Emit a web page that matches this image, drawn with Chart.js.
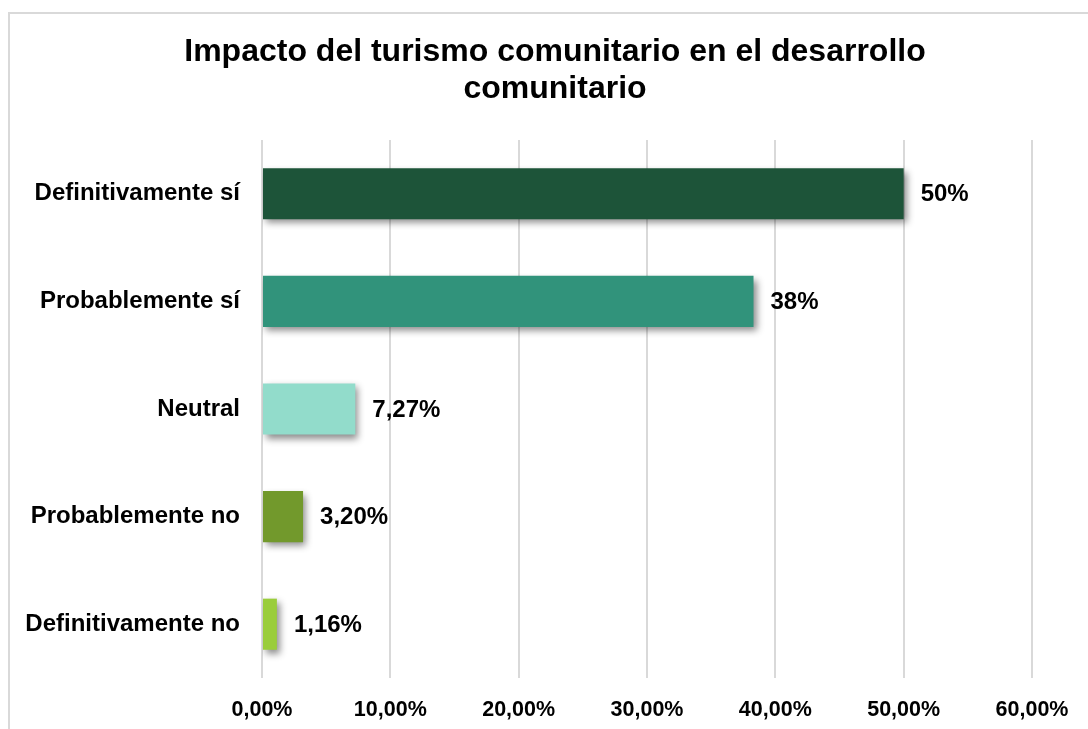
<!DOCTYPE html>
<html>
<head>
<meta charset="utf-8">
<script src="https://cdn.jsdelivr.net/npm/chart.js@4/dist/chart.umd.min.js"></script>
<style>
  html, body { margin: 0; padding: 0; background: #fff; overflow: hidden; }
  #wrap { position: relative; width: 1088px; height: 729px; }
  #frame { position: absolute; left: 8px; top: 12px; width: 1100px; height: 740px;
           border-top: 2px solid #D9D9D9; border-left: 2px solid #D9D9D9; box-sizing: border-box; }
  canvas { position: absolute; left: 0; top: 0; }
</style>
</head>
<body>
<div id="wrap">
  <div id="frame"></div>
  <canvas id="c" width="1088" height="729"></canvas>
</div>
<script>
const titleLines = ["Impacto del turismo comunitario en el desarrollo", "comunitario"];
const categories = ["Definitivamente sí", "Probablemente sí", "Neutral", "Probablemente no", "Definitivamente no"];
const values = [50, 38.3, 7.27, 3.2, 1.16];
const valueLabels = ["50%", "38%", "7,27%", "3,20%", "1,16%"];
const barColors = ["#1D5439", "#31937B", "#92DCCB", "#72992C", "#9ACD3B"];
const xTicks = [0, 10, 20, 30, 40, 50, 60];

const FONT = "'Liberation Sans', Arial, sans-serif";

const titlePlugin = {
  id: 'customTitle',
  afterDraw(chart) {
    const ctx = chart.ctx;
    ctx.save();
    ctx.font = "bold 32px " + FONT;
    ctx.fillStyle = '#000';
    ctx.textAlign = 'center';
    ctx.textBaseline = 'alphabetic';
    ctx.fillText(titleLines[0], 555, 61);
    ctx.fillText(titleLines[1], 555, 98);
    ctx.restore();
  }
};

const shadowPlugin = {
  id: 'barShadow',
  beforeDatasetDraw(chart) {
    const ctx = chart.ctx;
    ctx.save();
    ctx.shadowColor = 'rgba(0,0,0,0.45)';
    ctx.shadowBlur = 7;
    ctx.shadowOffsetX = 3;
    ctx.shadowOffsetY = 4;
  },
  afterDatasetDraw(chart) {
    chart.ctx.restore();
  }
};

const valueLabelPlugin = {
  id: 'valueLabels',
  afterDatasetsDraw(chart) {
    const ctx = chart.ctx;
    const meta = chart.getDatasetMeta(0);
    ctx.save();
    ctx.font = "bold 24px " + FONT;
    ctx.fillStyle = '#000';
    ctx.textAlign = 'left';
    ctx.textBaseline = 'middle';
    meta.data.forEach((bar, i) => {
      ctx.fillText(valueLabels[i], bar.x + 17, bar.y + 1);
    });
    ctx.restore();
  }
};

new Chart(document.getElementById('c'), {
  type: 'bar',
  data: {
    labels: categories,
    datasets: [{
      data: values,
      backgroundColor: barColors,
      borderWidth: 0,
      barPercentage: 0.475,
      categoryPercentage: 1.0
    }]
  },
  options: {
    indexAxis: 'y',
    responsive: false,
    animation: false,
    devicePixelRatio: 1,
    layout: { padding: { left: 10, right: 56, top: 140, bottom: 6 } },
    plugins: {
      legend: { display: false },
      tooltip: { enabled: false },
      title: { display: false }
    },
    scales: {
      x: {
        min: 0, max: 60,
        afterBuildTicks(axis) { axis.ticks = xTicks.map(v => ({ value: v })); },
        afterFit(axis) { axis.height = 45; },
        grid: { color: '#D9D9D9', lineWidth: 2, drawTicks: false },
        border: { display: false },
        ticks: {
          color: '#000',
          font: { family: FONT, size: 21.5, weight: 'bold' },
          padding: 19,
          callback: (v) => Number(v).toFixed(2).replace('.', ',') + '%'
        }
      },
      y: {
        grid: { display: false, drawTicks: false },
        border: { display: false },
        afterFit(axis) { axis.width = 252; },
        ticks: {
          color: '#000',
          font: { family: FONT, size: 24, weight: 'bold' },
          padding: 22
        }
      }
    }
  },
  plugins: [shadowPlugin, valueLabelPlugin, titlePlugin]
});
</script>
</body>
</html>
